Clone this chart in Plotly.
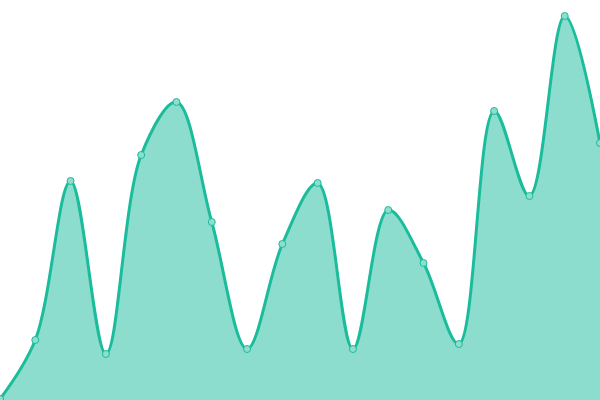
import plotly.graph_objects as go

x_vals = list(range(18))
y_vals = [1, 60, 219, 46, 245, 298, 178, 51, 156, 217, 51, 190, 137, 56, 289, 204, 384, 257]

fig = go.Figure(go.Scatter(
    x=x_vals, y=y_vals, mode="lines+markers",
    line=dict(shape="spline", smoothing=1.0, color="#1abc9c", width=3),
    fill="tozeroy", fillcolor="rgba(26,188,156,0.5)",
    marker=dict(size=7, color="#8ddecd", line=dict(color="#1abc9c", width=1)),
    cliponaxis=False,
))
fig.update_layout(
    width=600, height=400, margin=dict(l=0, r=0, t=0, b=0),
    paper_bgcolor="white", plot_bgcolor="white", showlegend=False,
    xaxis=dict(range=[0, 17], visible=False, fixedrange=True),
    yaxis=dict(range=[0, 400], visible=False, fixedrange=True),
)
fig.write_html(
    "out.html",
    config={"displayModeBar": False},
    post_script="document.body.style.margin='0';document.body.style.overflow='hidden';",
)
